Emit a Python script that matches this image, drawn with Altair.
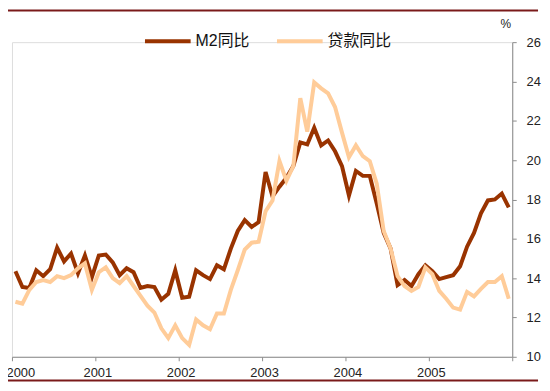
import altair as alt
import pandas as pd

# Monthly data, Jan 2000 - Dec 2005 (index 0..71)
m2 = [14.35, 13.55, 13.5, 14.4, 14.1, 14.45, 15.55, 14.85, 15.25, 14.25, 15.15, 14.05,
      15.15, 15.2, 14.8, 14.15, 14.5, 14.3, 13.5, 13.6, 13.55, 12.9, 13.2, 14.4,
      13.0, 13.05, 14.4, 14.15, 13.95, 14.65, 14.45, 15.5, 16.4, 16.95, 16.6, 16.85,
      19.4, 18.15, 18.65, 19.1, 19.7, 20.9, 20.8, 21.65, 20.75, 21.0, 20.45, 19.7,
      18.2, 19.45, 19.2, 19.2, 17.8, 16.3, 15.5, 13.65, 13.9, 13.6, 14.2, 14.65,
      14.35, 13.95, 14.05, 14.15, 14.6, 15.6, 16.3, 17.3, 17.95, 18.0, 18.3, 17.6]
loan = [12.8, 12.7, 13.4, 13.8, 13.9, 13.8, 14.1, 14.0, 14.15, 14.5, 14.75, 13.4,
        14.3, 14.55, 14.0, 13.75, 14.1, 13.6, 13.1, 12.6, 12.25, 11.45, 10.95, 11.6,
        10.95, 10.6, 11.9, 11.6, 11.4, 12.2, 12.2, 13.4, 14.4, 15.45, 15.8, 15.85,
        17.4, 17.95, 19.95, 18.95, 19.7, 23.15, 21.45, 23.95, 23.65, 23.4, 22.7, 21.4,
        20.15, 20.75, 20.2, 19.95, 18.8, 16.4, 15.5, 14.1, 13.6, 13.35, 13.55, 14.55,
        14.2, 13.35, 12.95, 12.5, 12.4, 13.3, 13.07, 13.45, 13.8, 13.8, 14.1, 12.95]
series_names = ["M2同比", "贷款同比"]
series_colors = ["#993300", "#FFCC99"]
year_ticks = [0, 12, 24, 36, 48, 60, 72]
y_ticks = [10, 12, 14, 16, 18, 20, 22, 24, 26]

rows = []
for i, v in enumerate(m2):
    rows.append({"t": i + 0.5, "v": v, "s": series_names[0]})
for i, v in enumerate(loan):
    rows.append({"t": i + 0.5, "v": v, "s": series_names[1]})
df = pd.DataFrame(rows)

FONT = "Liberation Sans, Noto Sans CJK SC, sans-serif"

x = alt.X("t:Q", scale=alt.Scale(domain=[0, 72], nice=False, zero=False),
          axis=alt.Axis(values=year_ticks, title=None, grid=False,
                        labelExpr="datum.value >= 72 ? '' : toString(2000 + datum.value / 12)",
                        domainColor="#8c8c8c", tickColor="#8c8c8c", tickSize=4,
                        labelFont=FONT, labelFontSize=13, labelColor="#222222",
                        labelPadding=6, labelOffset=2, labelFlush=True, labelFlushOffset=8))
y = alt.Y("v:Q", scale=alt.Scale(domain=[10, 26], nice=False, zero=False),
          axis=alt.Axis(orient="right", values=y_ticks, grid=False, title="%",
                        titleAngle=0, titleX=-7, titleY=-15, titleAlign="center",
                        titleBaseline="alphabetic", titleFont=FONT, titleFontSize=12,
                        titleFontWeight="normal", titleColor="#222222",
                        domainColor="#8c8c8c", tickColor="#8c8c8c", tickSize=4,
                        labelFont=FONT, labelFontSize=13, labelColor="#222222",
                        labelPadding=10))
color = alt.Color("s:N", scale=alt.Scale(domain=series_names, range=series_colors),
                  legend=alt.Legend(title=None, orient="none", direction="horizontal",
                                    legendX=132, legendY=-26, symbolType="stroke",
                                    symbolSize=2116, symbolStrokeWidth=4,
                                    labelFont=FONT, labelFontSize=16, labelColor="#111111",
                                    labelOffset=3, columnPadding=19))

base = alt.Chart(df)
m2_line = base.transform_filter(alt.datum.s == series_names[0]).mark_line(strokeWidth=4).encode(
    x=x, y=y, color=color)
loan_line = base.transform_filter(alt.datum.s == series_names[1]).mark_line(strokeWidth=4).encode(
    x=x, y=y, color=color)

border_df = pd.DataFrame({"k": [0]})
top_border = alt.Chart(border_df).mark_rule(color="#7a1a1a", strokeWidth=2).encode(
    x=alt.value(-4), x2=alt.value(530), y=alt.value(-32))
bottom_border = alt.Chart(border_df).mark_rule(color="#7a1a1a", strokeWidth=2).encode(
    x=alt.value(-4), x2=alt.value(530), y=alt.value(341))

chart = alt.layer(m2_line, loan_line, top_border, bottom_border).properties(
    width=504, height=317,
    autosize=alt.AutoSizeParams(type="none"),
    padding={"left": 4, "top": 33, "right": 30, "bottom": 24},
).configure_view(stroke=None).configure(background="white")

chart.save("out.html", embed_options={"renderer": "svg", "actions": False})
